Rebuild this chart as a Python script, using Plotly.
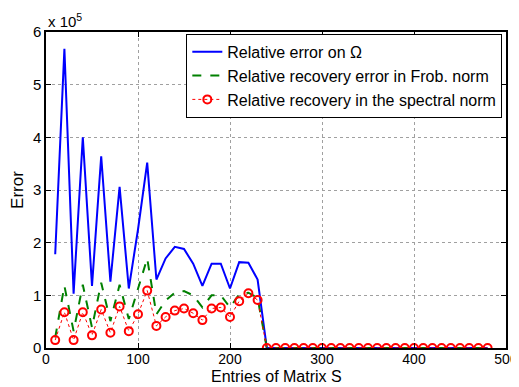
import plotly.graph_objects as go

# entries of matrix S (x axis)
entries = list(range(10, 490, 10))

# errors, in units of 1e5
err_omega = [1.78, 5.68, 1.03, 4.00, 1.18, 3.64, 1.26, 3.06, 1.13, 2.25,
             3.52, 1.30, 1.70, 1.92, 1.88, 1.60, 1.18, 1.60, 1.60, 1.13,
             1.63, 1.62, 1.30] + [0] * 25
err_frob = [0.20, 1.18, 0.32, 1.20, 0.39, 1.24, 0.51, 1.20, 0.55, 1.15,
            1.70, 0.64, 0.90, 1.05, 1.08, 1.00, 0.77, 1.00, 1.00, 0.77,
            1.02, 1.05, 0.95] + [0] * 25
err_spec = [0.15, 0.68, 0.15, 0.68, 0.24, 0.73, 0.29, 0.79, 0.32, 0.64,
            1.09, 0.42, 0.59, 0.71, 0.75, 0.66, 0.53, 0.75, 0.77, 0.59,
            0.89, 1.04, 0.91] + [0] * 25

font = "Liberation Sans, Arial, sans-serif"

fig = go.Figure()
fig.add_trace(go.Scatter(x=entries, y=err_omega, mode="lines",
                         name="Relative error on Ω",
                         line=dict(color="#0000ff", width=2)))
fig.add_trace(go.Scatter(x=entries, y=err_frob, mode="lines",
                         name="Relative recovery error in Frob. norm",
                         line=dict(color="#008000", width=2, dash="dash")))
fig.add_trace(go.Scatter(x=entries, y=err_spec, mode="lines+markers",
                         name="Relative recovery in the spectral norm",
                         line=dict(color="#ff0000", width=1, dash="dot"),
                         marker=dict(symbol="circle-open", color="#ff0000",
                                     size=8, line=dict(width=2))))

axis_style = dict(showline=True, linecolor="black", linewidth=1.5, mirror="allticks",
                  ticks="inside", ticklen=5, tickcolor="black",
                  showgrid=True, gridcolor="#a0a0a0", griddash="dot", gridwidth=1,
                  zeroline=False, automargin=False)

fig.update_xaxes(range=[0, 500], tickvals=[0, 100, 200, 300, 400, 500],
                 ticklabelstandoff=-3,
                 tickfont=dict(size=14, color="black", family=font), **axis_style)
fig.update_yaxes(range=[0, 6], tickvals=[0, 1, 2, 3, 4, 5, 6],
                 tickfont=dict(size=15, color="black", family=font),
                 title=dict(text="Error", standoff=8,
                            font=dict(size=17, color="black", family=font)),
                 **axis_style)

# x title kept at the very bottom of the figure, below the tick labels
fig.add_annotation(text="Entries of Matrix S", xref="paper", yref="paper",
                   x=0.5, y=0, yshift=-39, xanchor="center", yanchor="bottom",
                   showarrow=False, font=dict(size=16, color="black", family=font))
fig.add_annotation(text="x 10<sup>5</sup>", xref="paper", yref="paper",
                   x=0, y=1.0, xanchor="left", yanchor="bottom", showarrow=False,
                   font=dict(size=15, color="black", family=font))

# page has an 8px body margin, so the figure is a bit smaller than the window
fig.update_layout(
    width=511, height=379,
    margin=dict(l=38, r=13, t=24, b=39),
    plot_bgcolor="white", paper_bgcolor="white",
    font=dict(family=font, color="black"),
    legend=dict(x=0.992, y=0.994, xanchor="right", yanchor="top",
                bgcolor="white", bordercolor="black", borderwidth=1,
                font=dict(size=16, color="black", family=font),
                tracegroupgap=0, itemwidth=30),
    showlegend=True,
)

fig.write_html("out.html")
